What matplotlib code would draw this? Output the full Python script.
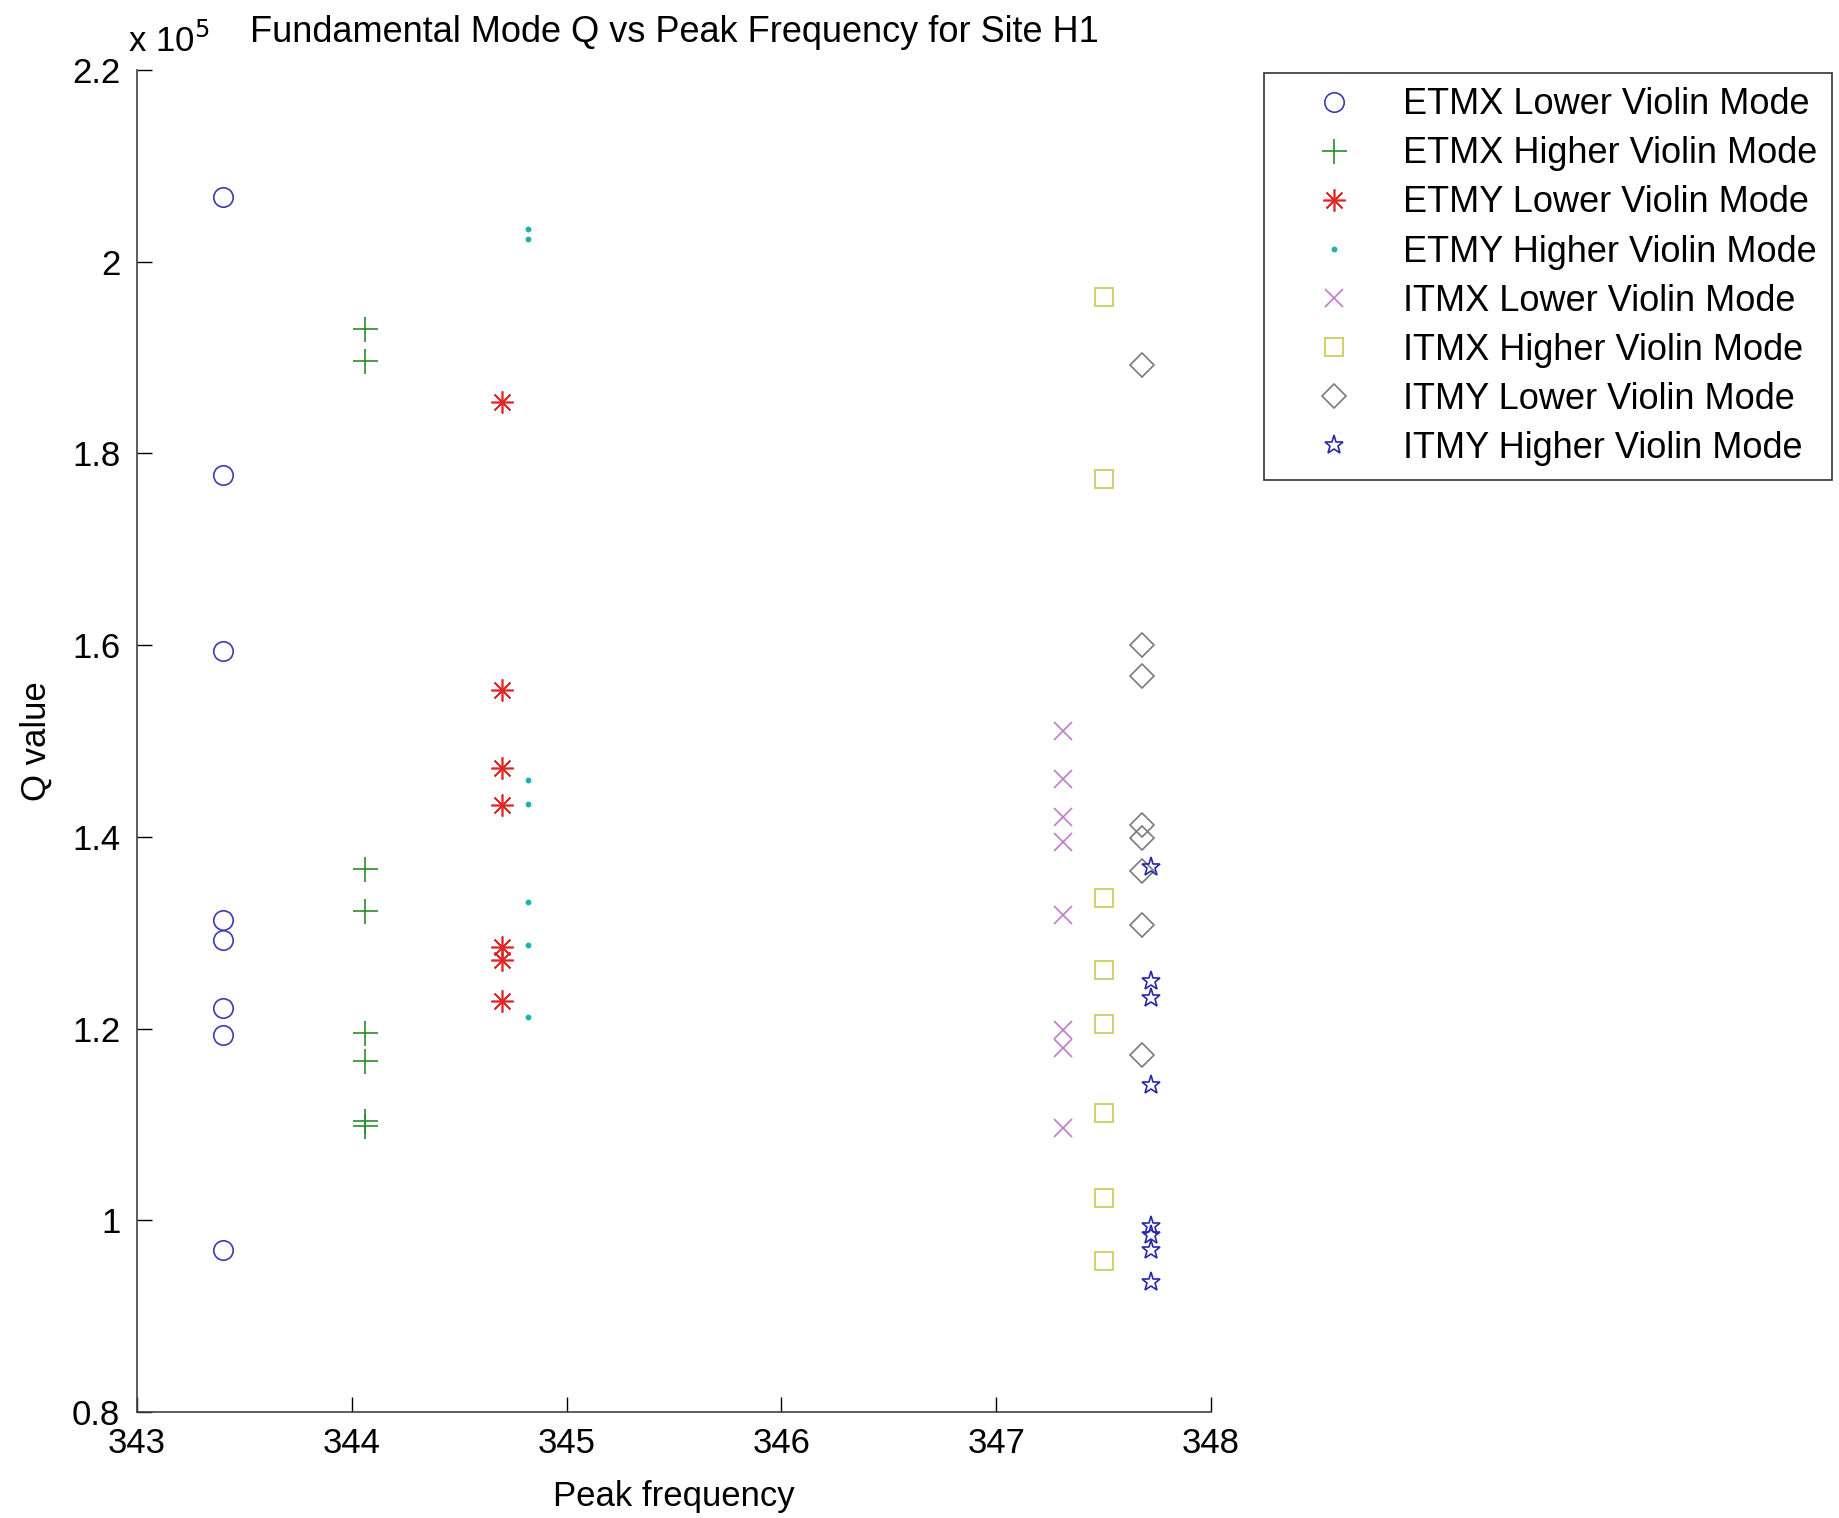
import matplotlib.pyplot as plt
from matplotlib.ticker import FuncFormatter

plt.rcParams['font.family'] = ['Liberation Sans', 'DejaVu Sans']

# Peak frequency (Hz) and Q value for each mode group
etmx_low_f = [343.40] * 8
etmx_low_q = [2.067e5, 1.777e5, 1.594e5, 1.313e5, 1.292e5, 1.221e5, 1.193e5, 0.969e5]

etmx_high_f = [344.06] * 8
etmx_high_q = [1.930e5, 1.896e5, 1.366e5, 1.323e5, 1.195e5, 1.166e5, 1.104e5, 1.098e5]

etmy_low_f = [344.70] * 7
etmy_low_q = [1.854e5, 1.553e5, 1.472e5, 1.433e5, 1.285e5, 1.272e5, 1.229e5]

etmy_high_f = [344.82] * 7
etmy_high_q = [2.034e5, 2.024e5, 1.459e5, 1.434e5, 1.332e5, 1.287e5, 1.212e5]

itmx_low_f = [347.31] * 8
itmx_low_q = [1.510e5, 1.460e5, 1.421e5, 1.395e5, 1.318e5, 1.199e5, 1.180e5, 1.096e5]

itmx_high_f = [347.50] * 8
itmx_high_q = [1.963e5, 1.773e5, 1.336e5, 1.261e5, 1.205e5, 1.112e5, 1.023e5, 0.958e5]

itmy_low_f = [347.68] * 8
itmy_low_q = [1.892e5, 1.600e5, 1.568e5, 1.412e5, 1.399e5, 1.364e5, 1.308e5, 1.172e5]

itmy_high_f = [347.72] * 8
itmy_high_q = [1.369e5, 1.250e5, 1.232e5, 1.141e5, 0.994e5, 0.985e5, 0.969e5, 0.936e5]

labels = ['ETMX Lower Violin Mode', 'ETMX Higher Violin Mode',
          'ETMY Lower Violin Mode', 'ETMY Higher Violin Mode',
          'ITMX Lower Violin Mode', 'ITMX Higher Violin Mode',
          'ITMY Lower Violin Mode', 'ITMY Higher Violin Mode']

fs = 25

fig = plt.figure(figsize=(18.39, 15.18), dpi=100)
ax = fig.add_axes([0.0745, 0.0698, 0.584, 0.8841])

kw = dict(linestyle='none', markeredgewidth=1.2)
ax.plot(etmx_low_f, etmx_low_q, 'o', color='#3c3cb0', fillstyle='none', markersize=14, label=labels[0], **kw)
ax.plot(etmx_high_f, etmx_high_q, '+', color='#2a8c2a', markersize=18, label=labels[1], **kw)
ax.plot(etmy_low_f, etmy_low_q, marker=(8, 2, 0), color='#e02828', markersize=16, label=labels[2], **kw)
ax.plot(etmy_high_f, etmy_high_q, '.', color='#20b0b0', markersize=6, label=labels[3], **kw)
ax.plot(itmx_low_f, itmx_low_q, 'x', color='#c07cc8', markersize=13, label=labels[4], **kw)
ax.plot(itmx_high_f, itmx_high_q, 's', color='#c8c850', fillstyle='none', markersize=13, label=labels[5], **kw)
ax.plot(itmy_low_f, itmy_low_q, 'D', color='#7a7a7a', fillstyle='none', markersize=12, label=labels[6], **kw)
ax.plot(itmy_high_f, itmy_high_q, '*', color='#2828a8', fillstyle='none', markersize=14, label=labels[7], **kw)

ax.set_xlim(343, 348)
ax.set_ylim(0.8e5, 2.2e5)
ax.set_xticks([343, 344, 345, 346, 347, 348])
ax.set_yticks([0.8e5, 1.0e5, 1.2e5, 1.4e5, 1.6e5, 1.8e5, 2.0e5, 2.2e5])
ax.xaxis.set_major_formatter(FuncFormatter(lambda v, p: '%g' % v))
ax.yaxis.set_major_formatter(FuncFormatter(lambda v, p: '%g' % round(v / 1e5, 2)))
ax.tick_params(direction='in', length=10.5, width=1, labelsize=fs)
ax.tick_params(axis='x', pad=11)
ax.tick_params(axis='y', pad=12)
ax.spines['top'].set_visible(False)
ax.spines['right'].set_visible(False)
for s in ('left', 'bottom'):
    ax.spines[s].set_linewidth(1.2)
    ax.spines[s].set_color('#404040')

ax.text(-0.008, 1.008, r'x 10$^{5}$', transform=ax.transAxes, fontsize=fs, ha='left', va='bottom')
ax.set_title('Fundamental Mode Q vs Peak Frequency for Site H1', fontsize=26, pad=20)
ax.set_xlabel('Peak frequency', fontsize=fs, labelpad=14)
ax.set_ylabel('Q value', fontsize=fs, labelpad=14)

leg = fig.legend(loc='upper right', bbox_to_anchor=(0.996, 0.952), fontsize=26,
                 frameon=True, fancybox=False, edgecolor='black', handlelength=3.1,
                 handletextpad=0.35, borderpad=0.4, labelspacing=0.39, borderaxespad=0)
leg.get_frame().set_linewidth(1.2)

fig.savefig('out.png', dpi=100)
